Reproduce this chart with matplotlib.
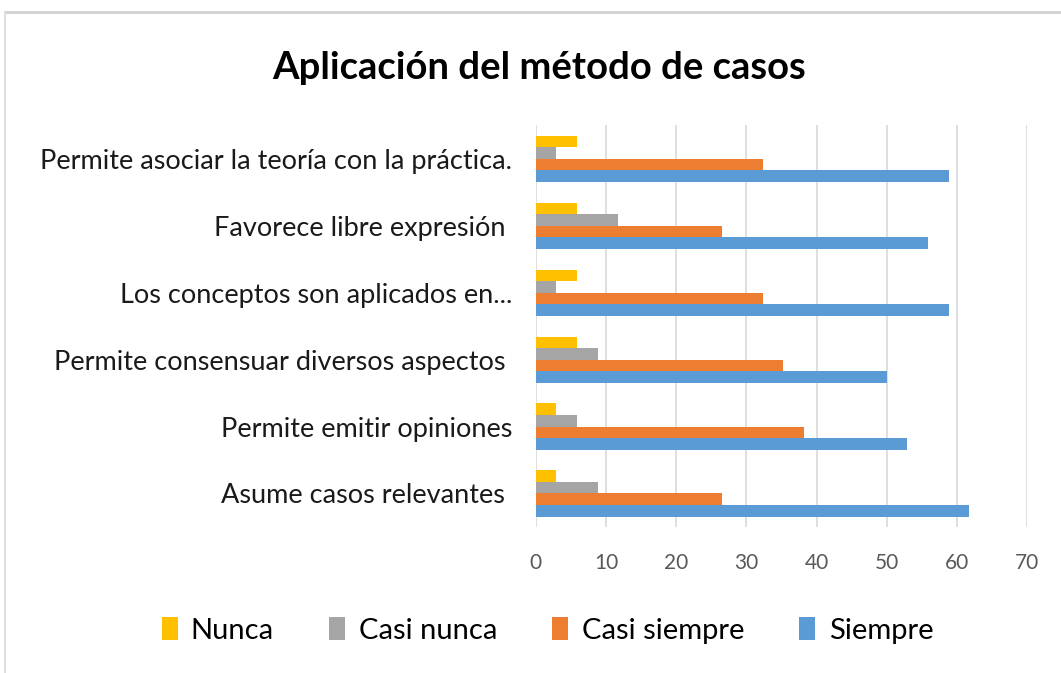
import matplotlib.pyplot as plt
import numpy as np

# categories from bottom to top (as drawn)
categories = ["Asume casos relevantes ",
              "Permite emitir opiniones",
              "Permite consensuar diversos aspectos ",
              "Los conceptos son aplicados en...",
              "Favorece libre expresión ",
              "Permite asociar la teoría con la práctica."]
nunca = [2.94, 2.94, 5.88, 5.88, 5.88, 5.88]
casi_nunca = [8.82, 5.88, 8.82, 2.94, 11.76, 2.94]
casi_siempre = [26.47, 38.24, 35.29, 32.35, 26.47, 32.35]
siempre = [61.76, 52.94, 50.0, 58.82, 55.88, 58.82]

series = [("Nunca", nunca, "#FFC000"),
          ("Casi nunca", casi_nunca, "#A5A5A5"),
          ("Casi siempre", casi_siempre, "#ED7D31"),
          ("Siempre", siempre, "#5B9BD5")]

plt.rcParams['font.family'] = ['Lato', 'DejaVu Sans']

fig = plt.figure(figsize=(10.61, 6.73), dpi=100)
ax = fig.add_axes([0.505, 0.217, 0.463, 0.597])

y = np.arange(len(categories))
h = 0.172
offsets = [1.5 * h, 0.5 * h, -0.5 * h, -1.5 * h]
for (name, vals, col), off in zip(series, offsets):
    ax.barh(y + off, vals, height=h, color=col, label=name, zorder=3)

ax.set_xlim(0, 70)
ax.set_ylim(-0.5, len(categories) - 0.5)
ax.set_xticks(range(0, 71, 10))
ax.set_yticks(y)
ax.set_yticklabels(categories, fontsize=19.5, color="#1a1a1a")
ax.tick_params(axis='x', labelsize=15, colors="#595959", length=0, pad=19)
ax.tick_params(axis='y', length=0, pad=17)
ax.grid(axis='x', color="#D9D9D9", linewidth=1.2, zorder=0)
for s in ax.spines.values():
    s.set_visible(False)

fig.text(0.508, 0.899, "Aplicación del método de casos", ha='center', va='center',
         fontsize=27.5, fontweight='bold', color="black")

handles, labels = ax.get_legend_handles_labels()
fig.legend(handles, labels, loc='center', bbox_to_anchor=(0.516, 0.063), ncol=4,
           frameon=False, fontsize=21, handlelength=0.55, handleheight=0.8,
           handletextpad=0.45, columnspacing=1.9)

# chart border
fig.add_artist(plt.Line2D([0.005, 1.0], [0.982, 0.982], color="#D0D0D0", linewidth=2))
fig.add_artist(plt.Line2D([0.005, 0.005], [0.0, 0.982], color="#E0E0E0", linewidth=1.5))

fig.savefig("out.png", dpi=100)
